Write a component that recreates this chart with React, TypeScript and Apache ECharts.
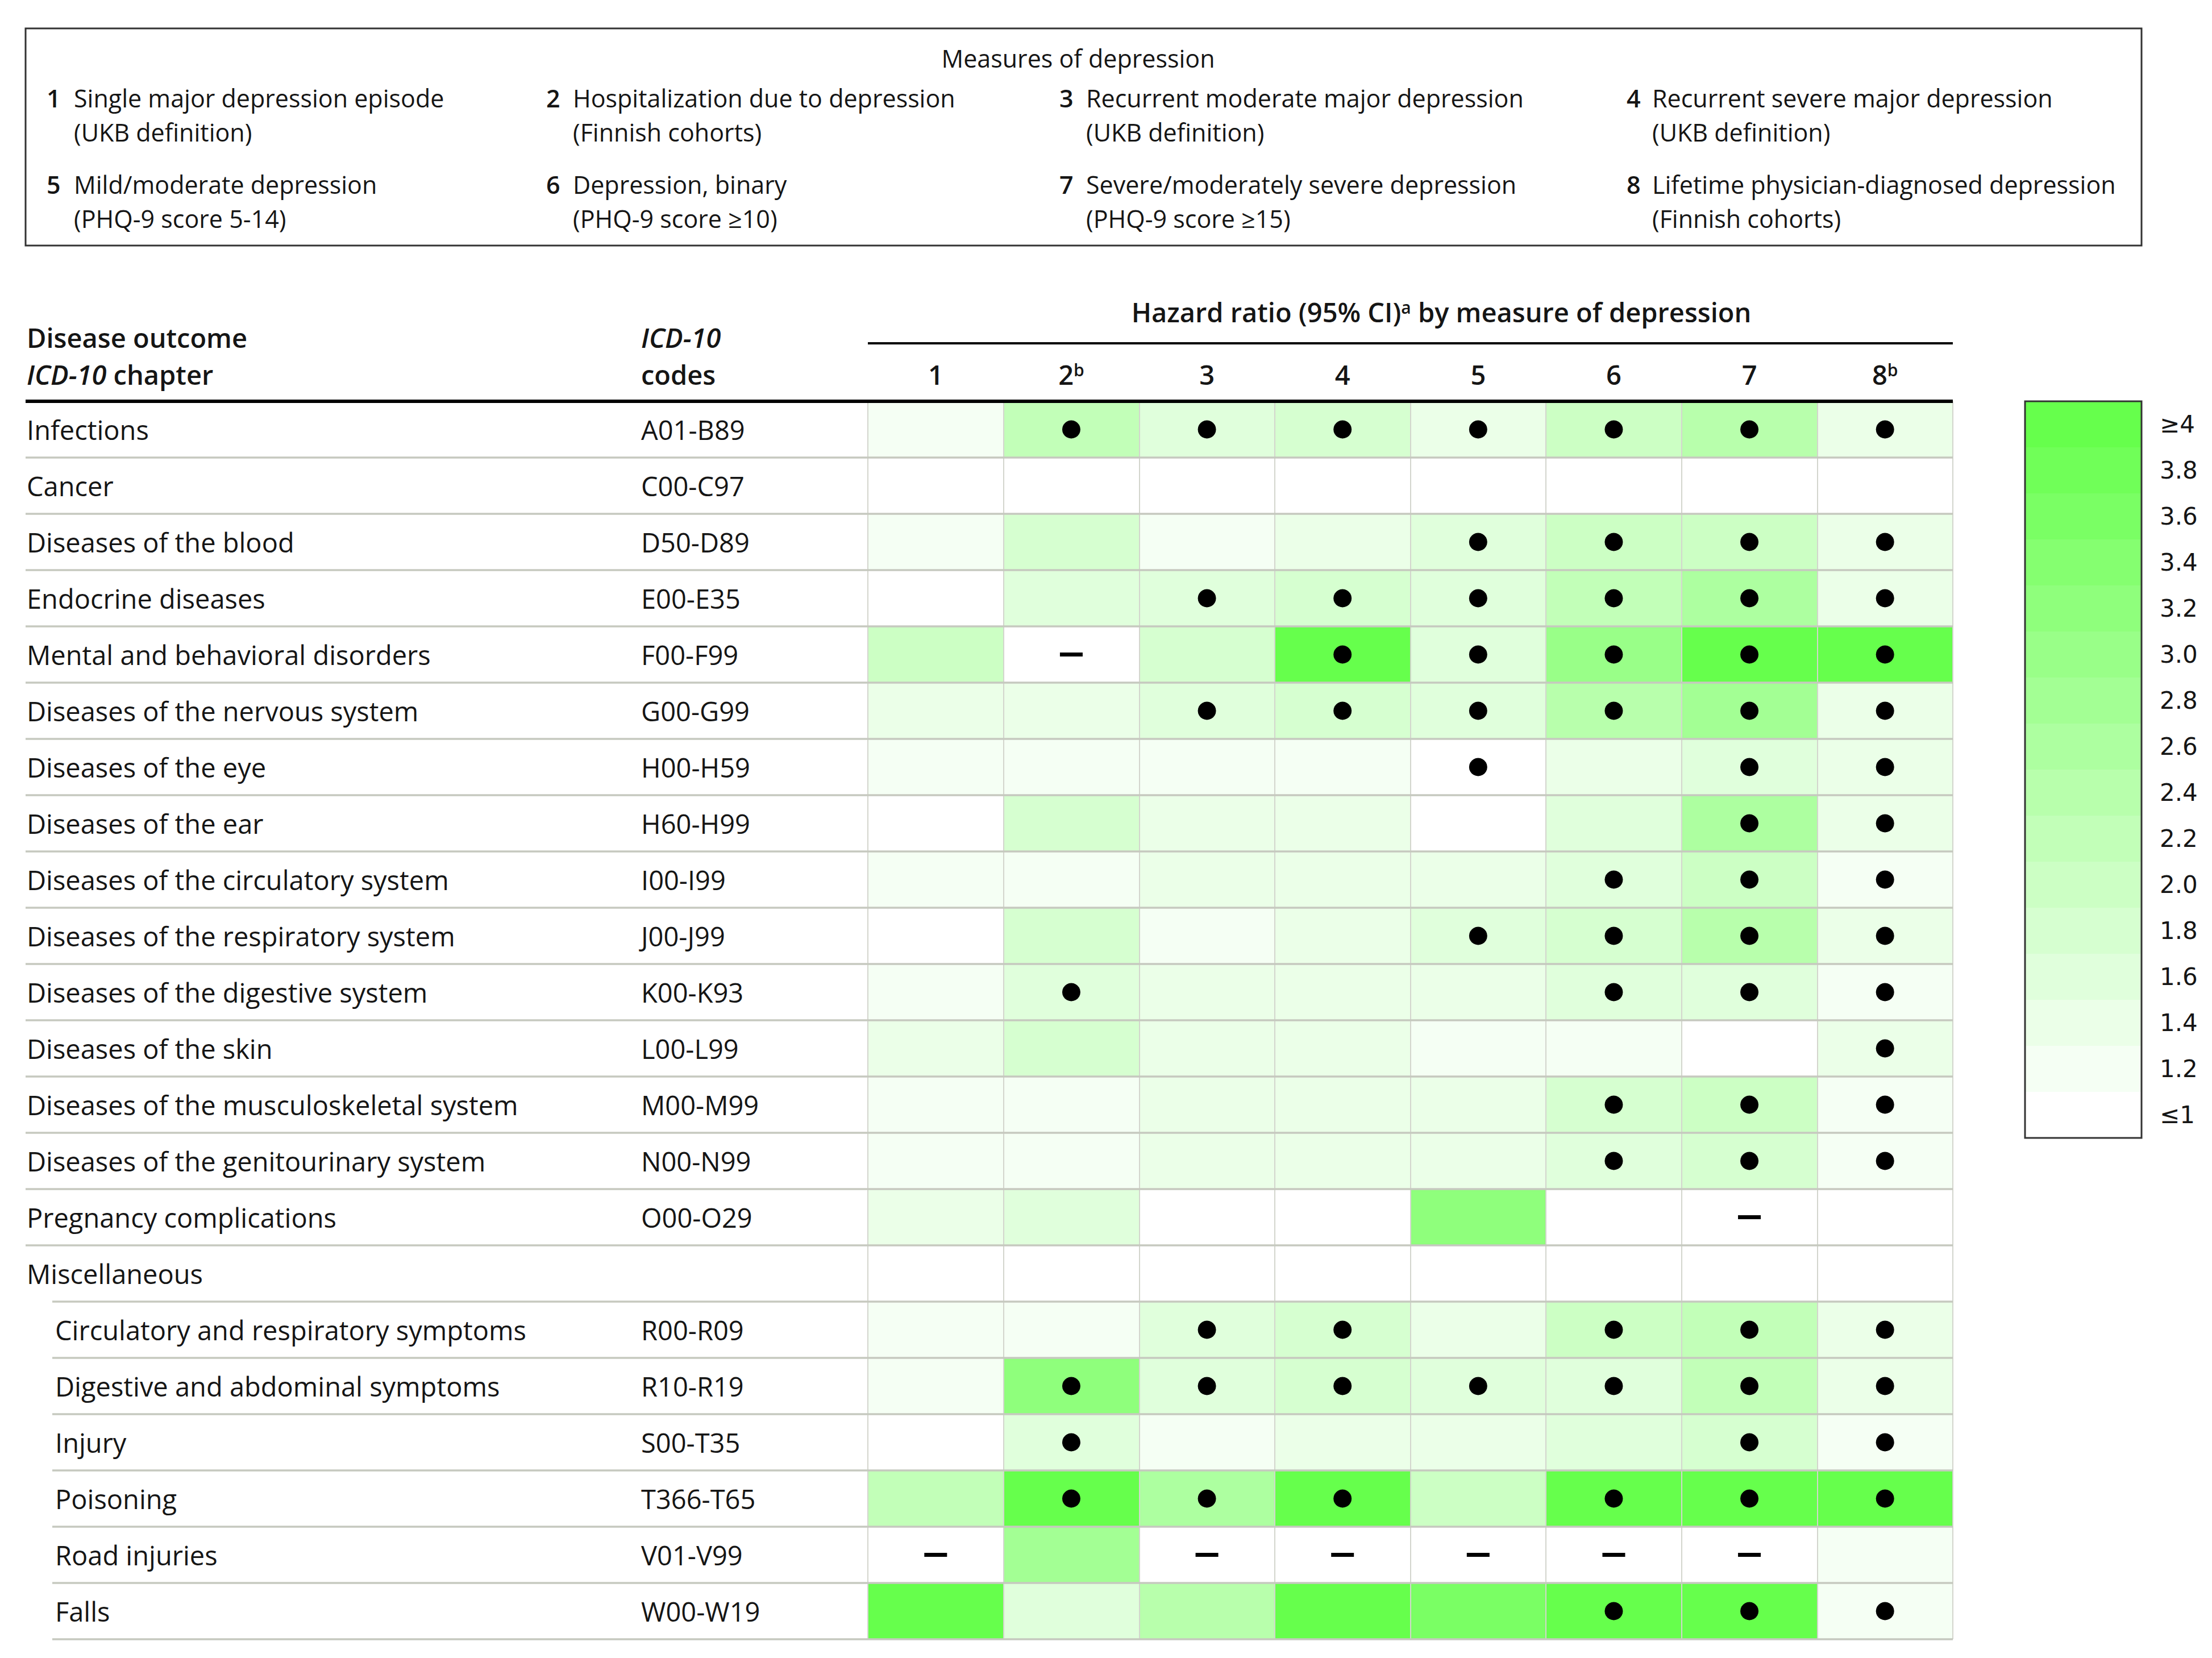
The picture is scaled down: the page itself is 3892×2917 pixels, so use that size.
import React, { useEffect, useRef } from "react";
import * as echarts from "echarts";

// ---------------- DATA ----------------
const outcomes = [
  "Infections",
  "Cancer",
  "Diseases of the blood",
  "Endocrine diseases",
  "Mental and behavioral disorders",
  "Diseases of the nervous system",
  "Diseases of the eye",
  "Diseases of the ear",
  "Diseases of the circulatory system",
  "Diseases of the respiratory system",
  "Diseases of the digestive system",
  "Diseases of the skin",
  "Diseases of the musculoskeletal system",
  "Diseases of the genitourinary system",
  "Pregnancy complications",
  "Miscellaneous",
  "Circulatory and respiratory symptoms",
  "Digestive and abdominal symptoms",
  "Injury",
  "Poisoning",
  "Road injuries",
  "Falls",
];

const icdCodes = [
  "A01-B89", "C00-C97", "D50-D89", "E00-E35", "F00-F99", "G00-G99", "H00-H59",
  "H60-H99", "I00-I99", "J00-J99", "K00-K93", "L00-L99", "M00-M99", "N00-N99",
  "O00-O29", "", "R00-R09", "R10-R19", "S00-T35", "T366-T65", "V01-V99", "W00-W19",
];

// outcomes listed under "Miscellaneous"
const subOutcomes = [
  "Circulatory and respiratory symptoms",
  "Digestive and abdominal symptoms",
  "Injury",
  "Poisoning",
  "Road injuries",
  "Falls",
];

const measures = ["1", "2", "3", "4", "5", "6", "7", "8"];
const measureNotes = ["", "b", "", "", "", "", "", "b"];

const measureTitles = [
  "Single major depression episode",
  "Hospitalization due to depression",
  "Recurrent moderate major depression",
  "Recurrent severe major depression",
  "Mild/moderate depression",
  "Depression, binary",
  "Severe/moderately severe depression",
  "Lifetime physician-diagnosed depression",
];
const measureDetails = [
  "(UKB definition)",
  "(Finnish cohorts)",
  "(UKB definition)",
  "(UKB definition)",
  "(PHQ-9 score 5-14)",
  "(PHQ-9 score ≥10)",
  "(PHQ-9 score ≥15)",
  "(Finnish cohorts)",
];

// hazard ratios by outcome (rows) and measure (columns); null = not estimated (—); [] = heading row
const hazardRatios: (number | null)[][] = [
  [1.2, 2.2, 1.6, 1.8, 1.45, 1.9, 2.4, 1.3],
  [0.98, 1.0, 1.0, 1.0, 1.02, 1.05, 1.05, 1.08],
  [1.25, 1.7, 1.2, 1.35, 1.6, 1.9, 1.95, 1.45],
  [1.0, 1.5, 1.6, 1.7, 1.6, 2.2, 2.5, 1.4],
  [1.9, null, 1.8, 4.3, 1.6, 3.0, 4.5, 4.6],
  [1.4, 1.4, 1.6, 1.8, 1.6, 2.4, 2.85, 1.4],
  [1.2, 1.2, 1.15, 1.25, 1.05, 1.4, 1.5, 1.3],
  [1.0, 1.8, 1.3, 1.4, 1.0, 1.5, 2.65, 1.4],
  [1.2, 1.15, 1.3, 1.3, 1.3, 1.5, 1.9, 1.25],
  [1.0, 1.7, 1.2, 1.45, 1.5, 1.8, 2.4, 1.4],
  [1.15, 1.6, 1.3, 1.4, 1.35, 1.6, 1.65, 1.2],
  [1.3, 1.8, 1.3, 1.4, 1.1, 1.12, 1.0, 1.4],
  [1.15, 1.15, 1.3, 1.4, 1.4, 1.75, 2.0, 1.25],
  [1.2, 1.12, 1.3, 1.4, 1.3, 1.6, 1.8, 1.28],
  [1.3, 1.6, 0.9, 0.95, 3.25, 0.9, null, 0.95],
  [],
  [1.28, 1.15, 1.6, 1.7, 1.4, 1.9, 2.2, 1.4],
  [1.12, 3.2, 1.5, 1.7, 1.5, 1.6, 2.2, 1.4],
  [1.0, 1.6, 1.12, 1.4, 1.4, 1.5, 1.8, 1.12],
  [2.2, 4.4, 2.65, 4.2, 2.0, 4.1, 4.3, 4.5],
  [null, 2.85, null, null, null, null, null, 1.2],
  [4.2, 1.6, 2.35, 4.5, 3.6, 4.3, 4.4, 1.2],
];

// 1 = statistically significant (black dot)
const significant: number[][] = [
  [0, 1, 1, 1, 1, 1, 1, 1],
  [0, 0, 0, 0, 0, 0, 0, 0],
  [0, 0, 0, 0, 1, 1, 1, 1],
  [0, 0, 1, 1, 1, 1, 1, 1],
  [0, 0, 0, 1, 1, 1, 1, 1],
  [0, 0, 1, 1, 1, 1, 1, 1],
  [0, 0, 0, 0, 1, 0, 1, 1],
  [0, 0, 0, 0, 0, 0, 1, 1],
  [0, 0, 0, 0, 0, 1, 1, 1],
  [0, 0, 0, 0, 1, 1, 1, 1],
  [0, 1, 0, 0, 0, 1, 1, 1],
  [0, 0, 0, 0, 0, 0, 0, 1],
  [0, 0, 0, 0, 0, 1, 1, 1],
  [0, 0, 0, 0, 0, 1, 1, 1],
  [0, 0, 0, 0, 0, 0, 0, 0],
  [0, 0, 0, 0, 0, 0, 0, 0],
  [0, 0, 1, 1, 0, 1, 1, 1],
  [0, 1, 1, 1, 1, 1, 1, 1],
  [0, 1, 0, 0, 0, 0, 1, 1],
  [0, 1, 1, 1, 0, 1, 1, 1],
  [0, 0, 0, 0, 0, 0, 0, 0],
  [0, 0, 0, 0, 0, 1, 1, 1],
];

// colour scale (low -> high)
const colorBandLabels = ["≤1", "1.2", "1.4", "1.6", "1.8", "2.0", "2.2", "2.4", "2.6", "2.8", "3.0", "3.2", "3.4", "3.6", "3.8", "≥4"];
const colorBandEdges = [1.1, 1.3, 1.5, 1.7, 1.9, 2.1, 2.3, 2.5, 2.7, 2.9, 3.1, 3.3, 3.5, 3.7, 3.9];
const colorBandColors = [
  "#ffffff", "#f5fff4", "#ebffe8", "#e0ffdc", "#d6ffd0", "#ccffc4", "#c2ffb8", "#b8ffac",
  "#adffa0", "#a3ff94", "#99ff88", "#8fff7c", "#85ff70", "#7aff64", "#70ff58", "#66ff4c",
];

// ---------------- LAYOUT ----------------
const FONT = "'Open Sans', 'Liberation Sans', sans-serif";
const TXT = "#151515";
const GRID_L = 1527;
const GRID_R = 3436;
const GRID_T = 706;
const ROW_H = 99;
const GRID_H = ROW_H * outcomes.length;
const ROW_FS = 47;
const LEG_FS = 43;

export default function App() {
  const ref = useRef<HTMLDivElement>(null);

  useEffect(() => {
    if (!ref.current) return;
    const chart = echarts.init(ref.current, null, { renderer: "svg" });

    const heatData: any[] = [];
    const dotData: any[] = [];
    const dashData: any[] = [];
    hazardRatios.forEach((row, r) => {
      row.forEach((v, c) => {
        if (v === null) dashData.push([c, r]);
        else heatData.push([c, r, v]);
        if (significant[r][c]) dotData.push([c, r]);
      });
    });

    const pieces: any[] = [];
    for (let i = colorBandLabels.length - 1; i >= 0; i--) {
      const p: any = { label: colorBandLabels[i], color: colorBandColors[i] };
      if (i === 0) p.lt = colorBandEdges[0];
      else if (i === colorBandLabels.length - 1) p.gte = colorBandEdges[i - 1];
      else {
        p.gte = colorBandEdges[i - 1];
        p.lt = colorBandEdges[i];
      }
      pieces.push(p);
    }

    const graphics: any[] = [];
    // legend box
    graphics.push({
      type: "rect",
      z: 100,
      shape: { x: 45, y: 50, width: 3723, height: 382 },
      style: { fill: "none", stroke: "#333", lineWidth: 3 },
    });
    graphics.push({
      type: "text",
      z: 100,
      x: 1897,
      y: 102,
      style: { text: "Measures of depression", font: `${LEG_FS}px ${FONT}`, fill: TXT, textAlign: "center", textVerticalAlign: "middle" },
    });
    const numX = [82, 961, 1864, 2862];
    const txtX = [130, 1008, 1911, 2907];
    const rowY = [172, 324];
    measureTitles.forEach((t, i) => {
      const col = i % 4;
      const row = Math.floor(i / 4);
      graphics.push({
        type: "text", z: 100, x: numX[col], y: rowY[row],
        style: { text: measures[i], font: `600 ${LEG_FS}px ${FONT}`, fill: TXT, textVerticalAlign: "middle" },
      });
      graphics.push({
        type: "text", z: 100, x: txtX[col], y: rowY[row],
        style: { text: t, font: `${LEG_FS}px ${FONT}`, fill: TXT, textVerticalAlign: "middle" },
      });
      graphics.push({
        type: "text", z: 100, x: txtX[col], y: rowY[row] + 60,
        style: { text: measureDetails[i], font: `${LEG_FS}px ${FONT}`, fill: TXT, textVerticalAlign: "middle" },
      });
    });

    // table header
    graphics.push({
      type: "text", z: 100, x: 47, y: 594,
      style: { text: "Disease outcome", font: `600 ${ROW_FS}px ${FONT}`, fill: TXT, textVerticalAlign: "middle" },
    });
    graphics.push({
      type: "text", z: 100, x: 47, y: 659,
      style: {
        text: "{i|ICD-10}{b| chapter}",
        textVerticalAlign: "middle",
        rich: {
          i: { fontFamily: FONT, fontSize: ROW_FS, fontWeight: 600, fontStyle: "italic", fill: TXT },
          b: { fontFamily: FONT, fontSize: ROW_FS, fontWeight: 600, fill: TXT },
        },
      },
    });
    graphics.push({
      type: "text", z: 100, x: 1128, y: 594,
      style: { text: "ICD-10", font: `italic 600 ${ROW_FS}px ${FONT}`, fill: TXT, textVerticalAlign: "middle" },
    });
    graphics.push({
      type: "text", z: 100, x: 1128, y: 659,
      style: { text: "codes", font: `600 ${ROW_FS}px ${FONT}`, fill: TXT, textVerticalAlign: "middle" },
    });
    graphics.push({
      type: "text", z: 100, x: 2536, y: 549,
      style: {
        text: "{t|Hazard ratio (95% CI)}{s|a}{t| by measure of depression}",
        textAlign: "center",
        textVerticalAlign: "middle",
        rich: {
          t: { fontFamily: FONT, fontSize: ROW_FS, fontWeight: 600, fill: TXT },
          s: { fontFamily: FONT, fontSize: 30, fontWeight: 600, fill: TXT, verticalAlign: "top" },
        },
      },
    });
    graphics.push({
      type: "line", z: 100,
      shape: { x1: GRID_L, y1: 604, x2: GRID_R, y2: 604 },
      style: { stroke: "#000", lineWidth: 4 },
    });
    // row rules
    for (let k = 1; k <= outcomes.length; k++) {
      const belowSub = subOutcomes.includes(outcomes[k - 1]) || outcomes[k - 1] === "Miscellaneous";
      graphics.push({
        type: "line", z: 99,
        shape: { x1: belowSub ? 92 : 45, y1: GRID_T + ROW_H * k, x2: GRID_R, y2: GRID_T + ROW_H * k },
        style: { stroke: "#c6c9bf", lineWidth: 3.5 },
      });
    }
    graphics.push({
      type: "line", z: 101,
      shape: { x1: 45, y1: GRID_T, x2: GRID_R, y2: GRID_T },
      style: { stroke: "#000", lineWidth: 6 },
    });
    // colour bar frame
    graphics.push({
      type: "rect", z: 100,
      shape: { x: 3563, y: GRID_T, width: 205, height: 81 * 16 },
      style: { fill: "none", stroke: "#333", lineWidth: 3 },
    });

    const option: any = {
      animation: false,
      backgroundColor: "#ffffff",
      grid: { left: GRID_L, top: GRID_T, width: GRID_R - GRID_L, height: GRID_H, containLabel: false },
      xAxis: {
        type: "category",
        data: measures,
        position: "top",
        z: 10,
        axisLine: { show: false },
        axisTick: { show: false },
        splitLine: { show: true, interval: 0, lineStyle: { color: "#d3d5cd", width: 2 } },
        axisLabel: {
          interval: 0,
          margin: 24,
          formatter: (v: string, i: number) =>
            measureNotes[i] ? `{n|${v}}{s|${measureNotes[i]}}` : `{n|${v}}`,
          rich: {
            n: { fontFamily: FONT, fontSize: ROW_FS, fontWeight: 600, color: TXT },
            s: { fontFamily: FONT, fontSize: 30, fontWeight: 600, color: TXT, verticalAlign: "top" },
          },
        },
      },
      yAxis: {
        type: "category",
        data: outcomes,
        inverse: true,
        axisLine: { show: false },
        axisTick: { show: false },
        splitLine: { show: false },
        axisLabel: {
          interval: 0,
          align: "left",
          margin: GRID_L - 47,
          formatter: (v: string, i: number) => {
            const sub = subOutcomes.includes(v);
            const name = sub ? `{ind|\u00a0}{sub|${v}}` : `{name|${v}}`;
            return icdCodes[i] ? `${name}{code|${icdCodes[i]}}` : name;
          },
          rich: {
            name: { fontFamily: FONT, fontSize: ROW_FS, color: TXT, width: 1081 },
            ind: { fontFamily: FONT, fontSize: ROW_FS, color: TXT, width: 50 },
            sub: { fontFamily: FONT, fontSize: ROW_FS, color: TXT, width: 1031 },
            code: { fontFamily: FONT, fontSize: ROW_FS, color: TXT },
          },
        },
      },
      visualMap: {
        type: "piecewise",
        seriesIndex: 0,
        orient: "vertical",
        align: "left",
        left: 3563,
        top: GRID_T,
        padding: 0,
        itemWidth: 205,
        itemHeight: 81,
        itemGap: 0,
        itemSymbol: "rect",
        textGap: 32,
        selectedMode: false,
        hoverLink: false,
        pieces,
        textStyle: { fontFamily: "'DejaVu Sans', sans-serif", fontSize: 42, color: TXT },
      },
      series: [
        {
          type: "heatmap",
          data: heatData,
          itemStyle: { borderWidth: 0 },
          emphasis: { disabled: true },
          silent: true,
          z: 2,
        },
        {
          type: "scatter",
          data: dotData,
          symbol: "circle",
          symbolSize: 32,
          itemStyle: { color: "#000", opacity: 1 },
          silent: true,
          z: 20,
        },
        {
          type: "scatter",
          data: dashData,
          symbol: "rect",
          symbolSize: [40, 7],
          itemStyle: { color: "#000", opacity: 1 },
          silent: true,
          z: 20,
        },
      ],
      graphic: graphics,
    };

    chart.setOption(option);
    return () => chart.dispose();
  }, []);

  return (
    <div
      ref={ref}
      style={{ position: "fixed", left: 0, top: 0, width: 3892, height: 2917, background: "#fff" }}
    />
  );
}
